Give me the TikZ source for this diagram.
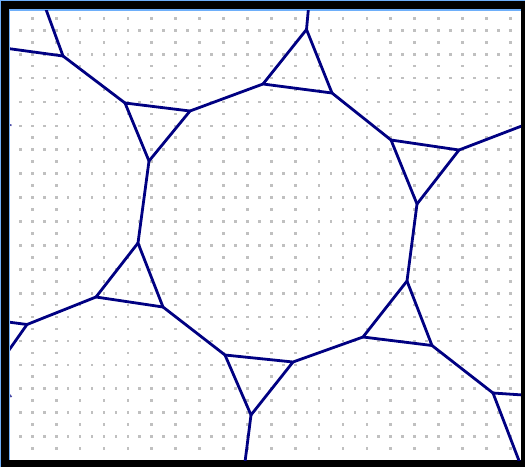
\documentclass[tikz,border=0pt]{standalone}
\definecolor{navyline}{RGB}{0,0,130}
\definecolor{frameblue}{RGB}{110,175,250}
\definecolor{dotgray}{RGB}{192,192,192}
\tikzset{
  tile/.style={draw=navyline, line width=2.8pt, line cap=round, line join=round},
  stub/.style={draw=navyline!70, line width=1.6pt},
  griddot/.style={fill=dotgray}
}
\begin{document}
\begin{tikzpicture}[x=1pt,y=-1pt]
\useasboundingbox (0,0) rectangle (525,467);
% frame
\fill[black] (0,0) rectangle (525,467);
\fill[frameblue] (0,0) rectangle (525,1);
\fill[frameblue] (0,0) rectangle (1,467);
\fill[frameblue] (9,9) rectangle (521,460);
\fill[white] (10,10.5) rectangle (521,460);
\begin{scope}
\clip (10,10.5) rectangle (521,460);
% dot grid
\foreach \j in {0,...,17}{
  \foreach \i in {0,...,41}{
    \fill[griddot] ({20.3+11.95*\i-1.35},{30.3+23.9*\j-1.35}) rectangle ++(2.7,2.7);
  }
}
\foreach \j in {0,...,18}{
  \foreach \i in {0,...,20}{
    \fill[griddot] ({32.3+23.9*\i-1.35},{18.3+23.9*\j-1.35}) rectangle ++(2.7,2.7);
  }
}
% dodecagon vertices
\coordinate (a1) at (190,111);
\coordinate (a2) at (263,84);
\coordinate (a3) at (332,93);
\coordinate (a4) at (391,140);
\coordinate (a5) at (417,204);
\coordinate (a6) at (407,281);
\coordinate (a7) at (363,337);
\coordinate (a8) at (293,362);
\coordinate (a9) at (225,355);
\coordinate (a10) at (163,307);
\coordinate (a11) at (138,243);
\coordinate (a12) at (149,161);
% triangle apexes
\coordinate (t1) at (306.5,29.5);
\coordinate (t2) at (459,150);
\coordinate (t3) at (432,345.5);
\coordinate (t4) at (251,415);
\coordinate (t5) at (96,297);
\coordinate (t6) at (125,103);
% outer junctions and border ends
\coordinate (o1) at (308.5,8);
\coordinate (o2) at (523,125.5);
\coordinate (j3) at (493,393);
\coordinate (o3a) at (523,395);
\coordinate (o3b) at (519.5,462);
\coordinate (o4) at (245,462);
\coordinate (j5) at (27,324.5);
\coordinate (o5a) at (8,322);
\coordinate (o5b) at (8,351.5);
\coordinate (j6) at (63,56);
\coordinate (o6a) at (45.5,8);
\coordinate (o6b) at (8,48.5);
% dodecagon
\draw[tile] (a1) -- (a2) -- (a3) -- (a4) -- (a5) -- (a6) -- (a7) -- (a8) -- (a9) -- (a10) -- (a11) -- (a12) -- cycle;
% triangles
\draw[tile] (a2) -- (t1) -- (a3);
\draw[tile] (a4) -- (t2) -- (a5);
\draw[tile] (a6) -- (t3) -- (a7);
\draw[tile] (a8) -- (t4) -- (a9);
\draw[tile] (a10) -- (t5) -- (a11);
\draw[tile] (a12) -- (t6) -- (a1);
% outward edges
\draw[tile] (t1) -- (o1);
\draw[tile] (t2) -- (o2);
\draw[tile] (t3) -- (j3);
\draw[tile] (j3) -- (o3a);
\draw[tile] (j3) -- (o3b);
\draw[tile] (t4) -- (o4);
\draw[tile] (t5) -- (j5);
\draw[tile] (j5) -- (o5a);
\draw[tile] (j5) -- (o5b);
\draw[tile] (t6) -- (j6);
\draw[tile] (j6) -- (o6a);
\draw[tile] (j6) -- (o6b);
% tiny stubs at the left border
\coordinate (s1a) at (9,124.5);
\coordinate (s1b) at (11.5,125.5);
\coordinate (s2a) at (9,394);
\coordinate (s2b) at (11.5,397);
\draw[stub] (s1a) -- (s1b);
\draw[stub] (s2a) -- (s2b);
\end{scope}
\end{tikzpicture}
\end{document}
